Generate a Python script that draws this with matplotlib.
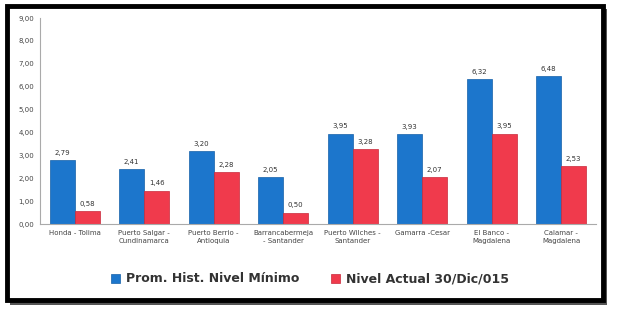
import matplotlib
matplotlib.use("Agg")
import matplotlib.pyplot as plt
from matplotlib.patches import Rectangle
import numpy as np

categories = ["Honda - Tolima", "Puerto Salgar -\nCundinamarca", "Puerto Berrio -\nAntioquia",
              "Barrancabermeja\n- Santander", "Puerto Wilches -\nSantander", "Gamarra -Cesar",
              "El Banco -\nMagdalena", "Calamar -\nMagdalena"]
prom_hist = [2.79, 2.41, 3.20, 2.05, 3.95, 3.93, 6.32, 6.48]
nivel_actual = [0.58, 1.46, 2.28, 0.50, 3.28, 2.07, 3.95, 2.53]
series_names = ["Prom. Hist. Nivel Mínimo", "Nivel Actual 30/Dic/015"]
yticks = np.arange(0, 10, 1)

blue = "#1C76CC"
red = "#F03A4C"

W, H = 617, 317
fig = plt.figure(figsize=(W/100, H/100), dpi=100)

# shadow + frame
fig.patches.append(Rectangle((10/W, 1 - 305/H), 597/W, 296/H, transform=fig.transFigure,
                             facecolor="#555555", edgecolor="none", zorder=0))
fig.patches.append(Rectangle((7/W, 1 - 300/H), 596/W, 294/H, transform=fig.transFigure,
                             facecolor="white", edgecolor="black", linewidth=3.5, zorder=1))

ax = fig.add_axes([40/W, 1 - 224/H, 556/W, 206/H])
ax.set_zorder(2)
ax.patch.set_alpha(0)
x = np.arange(len(categories))
w = 0.36
b1 = ax.bar(x - w/2, prom_hist, w, color=blue, edgecolor="#1560a8", linewidth=0.5, label=series_names[0])
b2 = ax.bar(x + w/2, nivel_actual, w, color=red, edgecolor="#c8283a", linewidth=0.5, label=series_names[1])

def fmt(v):
    return f"{v:.2f}".replace(".", ",")

for bars, vals in ((b1, prom_hist), (b2, nivel_actual)):
    for r, v in zip(bars, vals):
        ax.text(r.get_x() + r.get_width()/2, v + 0.18, fmt(v), ha="center", va="bottom",
                fontsize=5, color="#333333")

ax.set_ylim(0, 9)
ax.set_xlim(-0.5, len(categories) - 0.5)
ax.set_yticks(yticks)
ax.set_yticklabels([fmt(v) for v in yticks], fontsize=5, color="#444444")
ax.set_xticks(x)
ax.set_xticklabels(categories, fontsize=5, color="#444444", linespacing=1.5)
ax.tick_params(axis="both", length=0, pad=4)
for s in ("top", "right"):
    ax.spines[s].set_visible(False)
ax.spines["left"].set_color("#aaaaaa")
ax.spines["bottom"].set_color("#aaaaaa")

leg = fig.legend(handles=[b1, b2], labels=series_names, loc="center", bbox_to_anchor=(310/W, 1 - 279/H),
                 ncol=2, frameon=False, fontsize=9, handlelength=0.7, handleheight=0.7,
                 columnspacing=2.5, handletextpad=0.5, prop={"weight": "bold", "size": 9})
for t in leg.get_texts():
    t.set_color("#333333")
leg.set_zorder(3)

fig.savefig("out.png", dpi=100)
